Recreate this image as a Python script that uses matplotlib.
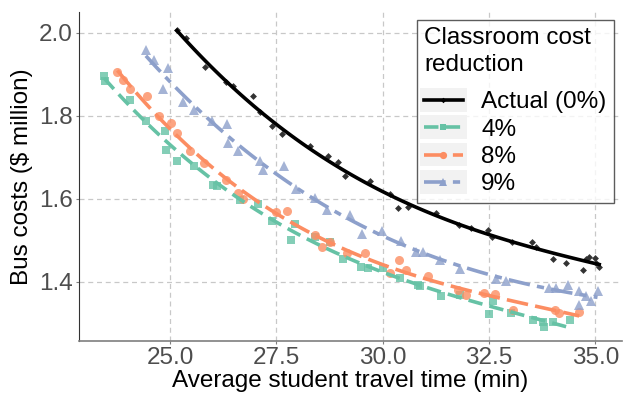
import numpy as np
import matplotlib.pyplot as plt
from matplotlib.lines import Line2D
from matplotlib.patches import Rectangle
from matplotlib.legend_handler import HandlerLine2D

plt.rcParams['font.family'] = ['Liberation Sans', 'DejaVu Sans']

actual_x = [25.16, 25.38, 25.82, 26.31, 26.47, 26.94, 27.11, 27.40, 27.62, 28.29,
            28.71, 28.94, 29.11, 29.69, 30.16, 30.35, 30.59, 31.26, 31.80, 32.08,
            32.47, 32.58, 33.05, 33.52, 33.61, 34.01, 34.31, 34.70, 34.77, 34.86,
            35.00, 35.02, 35.09]
actual_y = [2.007, 1.988, 1.916, 1.880, 1.872, 1.847, 1.808, 1.776, 1.757, 1.728,
            1.702, 1.689, 1.654, 1.642, 1.612, 1.578, 1.581, 1.566, 1.537, 1.530,
            1.524, 1.509, 1.497, 1.496, 1.485, 1.455, 1.446, 1.429, 1.456, 1.460,
            1.458, 1.446, 1.436]

r4_x = [23.45, 23.47, 24.05, 24.43, 24.87, 24.90, 25.16, 25.55, 26.00, 26.10,
        26.64, 27.07, 27.39, 27.93, 27.84, 28.40, 28.76, 29.07, 29.50, 29.66,
        30.01, 30.40, 30.83, 30.87, 31.38, 31.81, 32.51, 32.59, 33.02, 33.53,
        33.76, 33.80, 34.00, 34.40]
r4_y = [1.896, 1.883, 1.837, 1.788, 1.764, 1.718, 1.692, 1.680, 1.634, 1.631,
        1.598, 1.587, 1.547, 1.539, 1.501, 1.509, 1.497, 1.455, 1.435, 1.433,
        1.433, 1.410, 1.393, 1.390, 1.365, 1.369, 1.323, 1.353, 1.326, 1.308,
        1.304, 1.292, 1.304, 1.307]

r8_x = [23.76, 23.89, 24.06, 24.45, 24.74, 25.02, 25.16, 25.47, 25.80, 26.31,
        26.60, 26.71, 27.50, 27.76, 28.40, 28.58, 28.76, 29.15, 29.58, 30.16,
        30.38, 30.54, 31.06, 31.77, 31.96, 32.39, 32.63, 33.06, 34.04, 34.15,
        34.62]
r8_y = [1.905, 1.887, 1.863, 1.847, 1.798, 1.782, 1.758, 1.716, 1.686, 1.644,
        1.614, 1.599, 1.569, 1.571, 1.513, 1.485, 1.497, 1.469, 1.469, 1.421,
        1.453, 1.429, 1.413, 1.381, 1.369, 1.373, 1.371, 1.333, 1.333, 1.325,
        1.327]

r9_x = [24.43, 24.62, 24.96, 24.84, 25.31, 25.55, 25.98, 26.33, 26.37, 26.60,
        27.11, 27.19, 27.68, 27.96, 28.40, 28.68, 29.24, 29.52, 29.99, 30.42,
        30.79, 30.95, 31.34, 31.81, 32.67, 32.90, 33.92, 34.08, 34.35, 34.62,
        34.62, 34.78, 34.90, 35.05]
r9_y = [1.957, 1.933, 1.915, 1.863, 1.834, 1.814, 1.786, 1.781, 1.734, 1.714,
        1.690, 1.670, 1.678, 1.623, 1.602, 1.573, 1.561, 1.516, 1.523, 1.499,
        1.473, 1.473, 1.453, 1.431, 1.406, 1.401, 1.385, 1.386, 1.393, 1.377,
        1.345, 1.365, 1.353, 1.377]

labels = ['Actual (0%)', '4%', '8%', '9%']
colors = ['black', '#66C2A5', '#FC8D62', '#8DA0CB']
pt_colors = ['#333333', '#66C2A5', '#FC8D62', '#8DA0CB']
markers = ['D', 's', 'o', '^']
msizes = [3.5, 6, 6.5, 7]
dashes = [None, (4, 2), (6, 2), (6, 2, 2, 2)]

series = [(actual_x, actual_y), (r4_x, r4_y), (r8_x, r8_y), (r9_x, r9_y)]


class KeyHandler(HandlerLine2D):
    # grey key background like ggplot
    def create_artists(self, legend, orig_handle, xdescent, ydescent,
                       width, height, fontsize, trans):
        pad = 0.5 * legend.labelspacing * fontsize + 0.5
        bg = Rectangle((-xdescent - 3, -ydescent - pad), width + 6, height + 2 * pad,
                       facecolor='#F2F2F2', edgecolor='none', transform=trans)
        arts = super().create_artists(legend, orig_handle, xdescent, ydescent,
                                      width, height, fontsize, trans)
        return [bg] + list(arts)


fig = plt.figure(figsize=(6.23, 3.94), dpi=100)
ax = fig.add_axes([0.127, 0.135, 0.871, 0.835])

handles = []
for i, (xs, ys) in enumerate(series):
    xs = np.array(xs)
    ys = np.array(ys)
    ax.plot(xs, ys, linestyle='none', marker=markers[i], ms=msizes[i],
            color=pt_colors[i], alpha=0.8 if i else 1, mew=0, zorder=2)
    coef = np.polyfit(xs, ys, 3)
    xx = np.linspace(xs.min(), xs.max(), 100)
    ln, = ax.plot(xx, np.polyval(coef, xx), color=colors[i], lw=2.6, zorder=3)
    if dashes[i]:
        ln.set_dashes(dashes[i])
    h = Line2D([], [], color=colors[i], lw=2.6, marker=markers[i], ms=msizes[i] * 0.8,
               mew=0)
    if dashes[i]:
        h.set_dashes(dashes[i])
    handles.append(h)

ax.set_xlim(22.86, 35.62)
ax.set_ylim(1.258, 2.05)
ax.set_xticks([25.0, 27.5, 30.0, 32.5, 35.0])
ax.set_xticklabels(['25.0', '27.5', '30.0', '32.5', '35.0'])
ax.set_yticks([1.4, 1.6, 1.8, 2.0])
ax.set_yticklabels(['1.4', '1.6', '1.8', '2.0'])
ax.grid(True, color='#C8C8C8', linestyle=(0, (4, 3)), lw=0.9)
ax.set_axisbelow(True)
for s in ['top', 'right']:
    ax.spines[s].set_visible(False)
ax.spines['left'].set_color('#333333')
ax.spines['bottom'].set_color('#7F7F7F')
ax.spines['bottom'].set_linewidth(1.2)
ax.tick_params(labelsize=17.5, labelcolor='#4D4D4D', color='#7F7F7F',
               length=2.5, pad=2)
ax.set_xlabel('Average student travel time (min)', fontsize=17.5, labelpad=1)
ax.set_ylabel('Bus costs ($ million)', fontsize=17.5, labelpad=4)

leg = ax.legend(handles, labels, title='Classroom cost\nreduction',
                loc='upper right', bbox_to_anchor=(0.985, 0.976), borderaxespad=0,
                fontsize=17.5, title_fontsize=17.5, frameon=True, fancybox=False,
                edgecolor='#333333', handlelength=1.6, labelspacing=0.22,
                borderpad=0.3, handletextpad=0.75, numpoints=1,
                handler_map={Line2D: KeyHandler()})
leg._legend_box.align = 'left'
leg._legend_box.sep = 11
leg.get_title().set_linespacing(1.3)
leg.get_frame().set_linewidth(1.0)

fig.savefig('out.png', dpi=100)
